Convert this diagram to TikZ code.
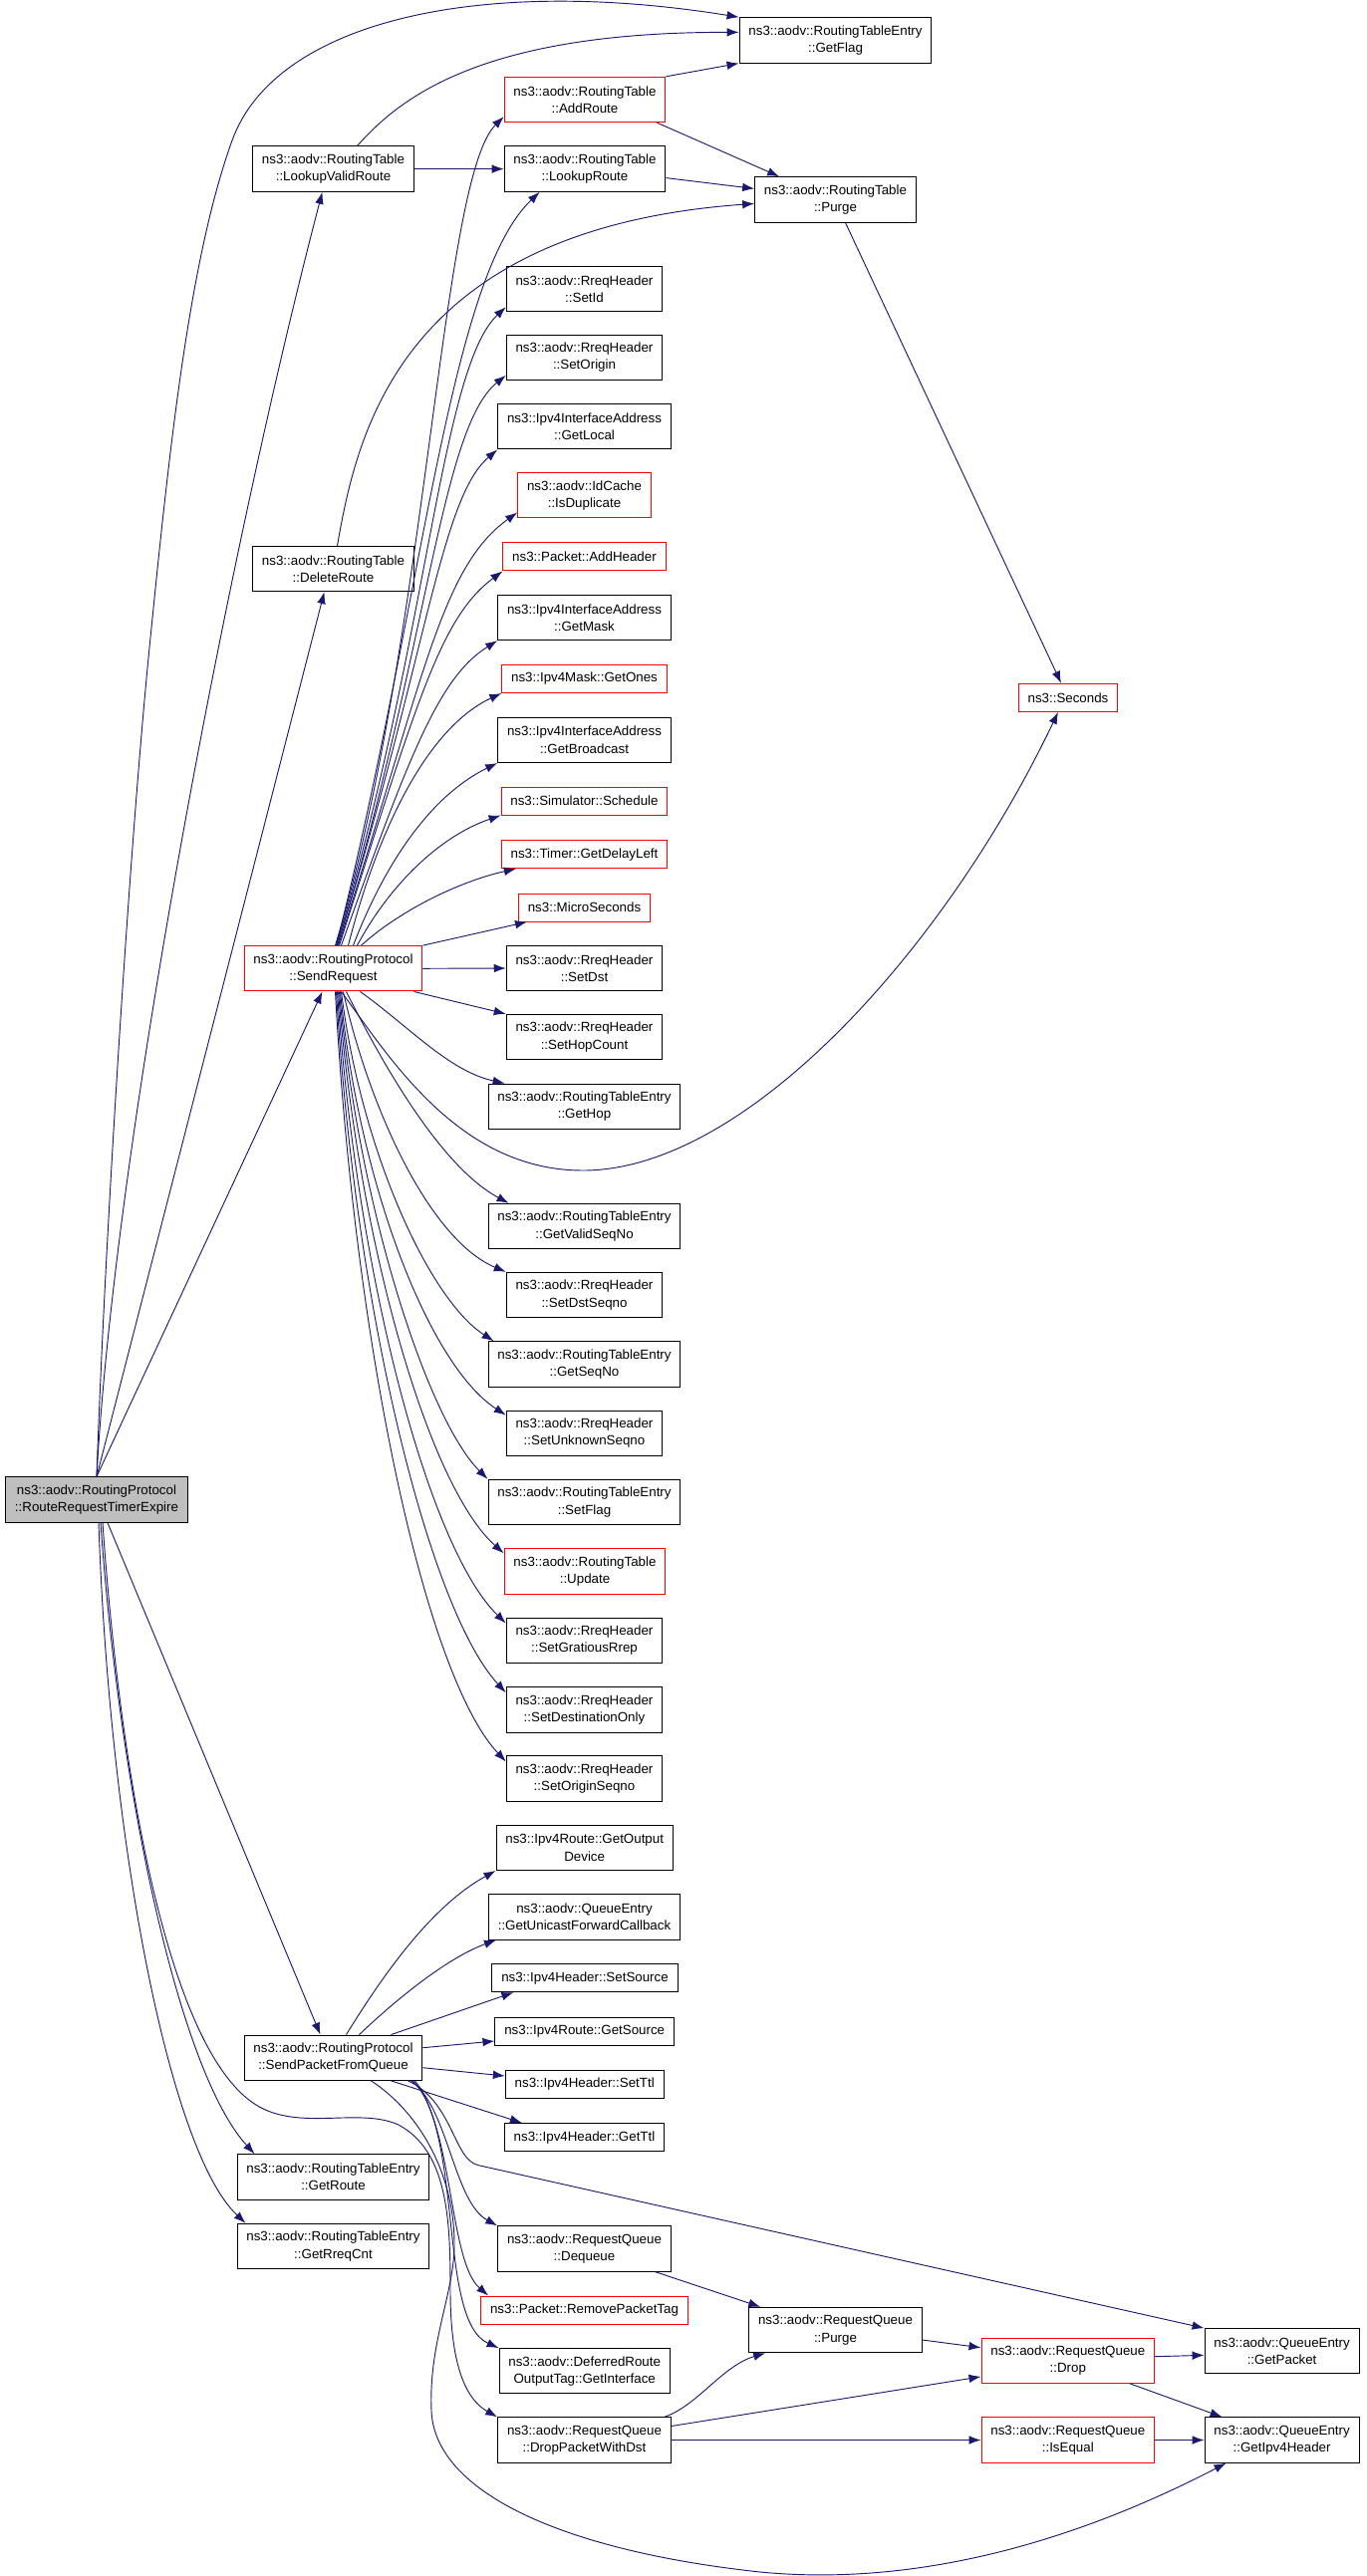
\documentclass[tikz,border=0pt]{standalone}
\usepackage{fontspec}
\setmainfont{Liberation Sans}
\usetikzlibrary{arrows.meta,calc}
\definecolor{callblue}{HTML}{191970}
\definecolor{rootgray}{HTML}{BFBFBF}
\tikzset{
  fn/.style={draw=black, fill=white, align=center, inner xsep=7pt, inner ysep=2pt,
    minimum height=34pt, line width=0.75pt, font=\fontsize{10}{13}\selectfont},
  hot/.style={fn, draw=red},
  root/.style={fn, fill=rootgray},
  one/.style={minimum height=21pt},
  call/.style={->, draw=callblue, line width=0.7pt},
}
\begin{document}
\begin{tikzpicture}[x=0.75pt,y=-0.75pt,>={Latex[length=9pt,width=6.5pt]}]
            \useasboundingbox (0,0) rectangle (1371,2586);

            % the caller
            \node[root] (main) at (97,1505.5) {ns3::aodv::RoutingProtocol\\::RouteRequestTimerExpire};

            % first column of callees
            \node[fn] (lvr) at (334.5,169.6) {ns3::aodv::RoutingTable\\::LookupValidRoute};
            \node[fn] (delroute) at (334.5,571) {ns3::aodv::RoutingTable\\::DeleteRoute};
            \node[hot] (sr) at (334.5,972.3) {ns3::aodv::RoutingProtocol\\::SendRequest};
            \node[fn] (spfq) at (334.5,2065.7) {ns3::aodv::RoutingProtocol\\::SendPacketFromQueue};
            \node[fn] (getroute) at (334.5,2185.5) {ns3::aodv::RoutingTableEntry\\::GetRoute};
            \node[fn] (getrreq) at (334.5,2255) {ns3::aodv::RoutingTableEntry\\::GetRreqCnt};

            % second column
            \node[hot] (addroute) at (587,100) {ns3::aodv::RoutingTable\\::AddRoute};
            \node[fn] (lookuproute) at (587,169.6) {ns3::aodv::RoutingTable\\::LookupRoute};
            \node[fn] (setid) at (586.5,290) {ns3::aodv::RreqHeader\\::SetId};
            \node[fn] (setorigin) at (586.5,358.7) {ns3::aodv::RreqHeader\\::SetOrigin};
            \node[fn] (getlocal) at (586.5,428.3) {ns3::Ipv4InterfaceAddress\\::GetLocal};
            \node[hot] (isdup) at (586.5,497.3) {ns3::aodv::IdCache\\::IsDuplicate};
            \node[hot,one] (addheader) at (586.5,558.9) {ns3::Packet::AddHeader};
            \node[fn] (getmask) at (586.5,620) {ns3::Ipv4InterfaceAddress\\::GetMask};
            \node[hot,one] (getones) at (586.5,681.5) {ns3::Ipv4Mask::GetOnes};
            \node[fn] (getbroadcast) at (586.5,742.8) {ns3::Ipv4InterfaceAddress\\::GetBroadcast};
            \node[hot,one] (schedule) at (586.5,804) {ns3::Simulator::Schedule};
            \node[hot,one] (getdelay) at (586.5,857.7) {ns3::Timer::GetDelayLeft};
            \node[hot,one] (micro) at (586.5,911) {ns3::MicroSeconds};
            \node[fn] (setdst) at (586.5,972) {ns3::aodv::RreqHeader\\::SetDst};
            \node[fn] (sethop) at (586.5,1041) {ns3::aodv::RreqHeader\\::SetHopCount};
            \node[fn] (gethop) at (586.5,1110.7) {ns3::aodv::RoutingTableEntry\\::GetHop};
            \node[fn] (getvalid) at (586.5,1231) {ns3::aodv::RoutingTableEntry\\::GetValidSeqNo};
            \node[fn] (setdstseq) at (586.5,1300) {ns3::aodv::RreqHeader\\::SetDstSeqno};
            \node[fn] (getseqno) at (586.5,1369.4) {ns3::aodv::RoutingTableEntry\\::GetSeqNo};
            \node[fn] (setunknown) at (586.5,1438.8) {ns3::aodv::RreqHeader\\::SetUnknownSeqno};
            \node[fn] (setflag) at (586.5,1508) {ns3::aodv::RoutingTableEntry\\::SetFlag};
            \node[hot] (update) at (587,1577.5) {ns3::aodv::RoutingTable\\::Update};
            \node[fn] (setgrat) at (586.5,1646.7) {ns3::aodv::RreqHeader\\::SetGratiousRrep};
            \node[fn] (setdestonly) at (586.5,1716.4) {ns3::aodv::RreqHeader\\::SetDestinationOnly};
            \node[fn] (setoriginseq) at (586.5,1785.6) {ns3::aodv::RreqHeader\\::SetOriginSeqno};
            \node[fn] (getoutdev) at (586.7,1854.8) {ns3::Ipv4Route::GetOutput\\Device};
            \node[fn] (getucb) at (586.5,1924.4) {ns3::aodv::QueueEntry\\::GetUnicastForwardCallback};
            \node[fn,one] (setsource) at (587,1985.6) {ns3::Ipv4Header::SetSource};
            \node[fn,one] (getsource) at (586.7,2039) {ns3::Ipv4Route::GetSource};
            \node[fn,one] (setttl) at (586.7,2092) {ns3::Ipv4Header::SetTtl};
            \node[fn,one] (getttl) at (586.5,2145.6) {ns3::Ipv4Header::GetTtl};
            \node[fn] (dequeue) at (586.5,2257.5) {ns3::aodv::RequestQueue\\::Dequeue};
            \node[hot,one] (rpt) at (586.5,2319) {ns3::Packet::RemovePacketTag};
            \node[fn] (getif) at (586.7,2380.3) {ns3::aodv::DeferredRoute\\OutputTag::GetInterface};
            \node[fn] (dpwd) at (586.5,2449.5) {ns3::aodv::RequestQueue\\::DropPacketWithDst};

            % third column and beyond
            \node[fn] (getflag) at (838.5,40.4) {ns3::aodv::RoutingTableEntry\\::GetFlag};
            \node[fn] (purge) at (838.5,200.4) {ns3::aodv::RoutingTable\\::Purge};
            \node[hot,one] (seconds) at (1072,700.3) {ns3::Seconds};
            \node[fn] (rqpurge) at (838.5,2339) {ns3::aodv::RequestQueue\\::Purge};
            \node[hot] (drop) at (1071.8,2369.7) {ns3::aodv::RequestQueue\\::Drop};
            \node[hot] (isequal) at (1071.8,2449.5) {ns3::aodv::RequestQueue\\::IsEqual};
            \node[fn] (getpacket) at (1286.6,2360.3) {ns3::aodv::QueueEntry\\::GetPacket};
            \node[fn] (getipv4hdr) at (1286.6,2449.5) {ns3::aodv::QueueEntry\\::GetIpv4Header};

            % calls of the timer
            \draw[call] (main.north) .. controls (105,1250) and (130,850) .. (150,650)
                .. controls (170,450) and (190,260) .. (233,141)
                .. controls (276,22) and (480,-25) .. (getflag.north west);
            \draw[call] (main.north) .. controls (115,1150) and (230,550) .. ($(lvr.south)+(-11,0)$);
            \draw[call] (main.north) -- ($(delroute.south)+(-9,0)$);
            \draw[call] (main.north) -- ($(sr.south)+(-11,0)$);
            \draw[call] ($(main.south)+(11,0)$) -- ($(spfq.north)+(-13,0)$);
            \draw[call] ($(main.south)+(4,0)$) .. controls (120,1800) and (180,2080) .. ($(getroute.north west)+(18,0)$);
            \draw[call] ($(main.south)+(2,0)$) .. controls (110,1850) and (170,2160) .. ($(getrreq.north west)+(9,0)$);
            \draw[call] ($(main.south)+(6,0)$) .. controls (122,1800) and (172,2060) .. (257,2113)
                .. controls (300,2140) and (360,2115) .. (400,2133)
                .. controls (450,2160) and (452,2230) .. (452,2300)
                .. controls (452,2380) and (470,2410) .. (dpwd.north west);

            % routing table calls
            \draw[call] (lvr.east) -- (lookuproute.west);
            \draw[call] ($(lvr.north)+(24,0)$) .. controls (400,100) and (480,32) .. ($(getflag.west)+(0,-8)$);
            \draw[call] ($(delroute.north)+(4,0)$) .. controls (358,437) and (400,230) .. ($(purge.west)+(0,4)$);
            \draw[call] (addroute.north east) -- (getflag.south west);
            \draw[call] ($(addroute.south east)+(-9,0)$) -- ($(purge.north west)+(25,0)$);
            \draw[call] ($(lookuproute.east)+(0,9)$) -- ($(purge.west)+(0,-11)$);
            \draw[call] ($(purge.south)+(10,0)$) -- ($(seconds.north)+(-7,0)$);

            % send request, upper fan
            \draw[call] ($(sr.north)+(2,0)$) .. controls (430,640) and (442,180) .. ($(addroute.south west)+(0,-6)$);
            \draw[call] ($(sr.north)+(3,0)$) .. controls (425,600) and (450,280) .. ($(lookuproute.south west)+(36,0)$);
            \draw[call] ($(sr.north)+(3,0)$) .. controls (430,640) and (442,370) .. ($(setid.south west)+(0,-5)$);
            \draw[call] ($(sr.north)+(4,0)$) .. controls (430,650) and (442,430) .. ($(setorigin.south west)+(0,-5)$);
            \draw[call] ($(sr.north)+(4,0)$) .. controls (428,660) and (442,500) .. (getlocal.south west);
            \draw[call] ($(sr.north)+(5,0)$) .. controls (426,680) and (442,570) .. ($(isdup.south west)+(0,-6)$);
            \draw[call] ($(sr.north)+(6,0)$) .. controls (420,700) and (442,620) .. (addheader.south west);
            \draw[call] ($(sr.north)+(8,0)$) .. controls (410,760) and (440,680) .. (getmask.south west);
            \draw[call] ($(sr.north)+(15,0)$) .. controls (380,830) and (430,730) .. (getones.south west);
            \draw[call] ($(sr.north)+(20,0)$) .. controls (385,870) and (430,800) .. (getbroadcast.south west);
            \draw[call] ($(sr.north)+(24,0)$) .. controls (390,890) and (440,840) .. (schedule.south west);
            \draw[call] ($(sr.north)+(28,0)$) .. controls (400,915) and (460,885) .. ($(getdelay.south west)+(15,0)$);
            \draw[call] (sr.north east) -- ($(micro.south west)+(9,0)$);
            \draw[call] (sr.east) -- (setdst.west);
            \draw[call] ($(sr.south east)+(-9,0)$) -- (sethop.north west);

            % send request, lower fan
            \draw[call] ($(sr.south)+(27,0)$) .. controls (410,1030) and (450,1075) .. ($(gethop.north west)+(17,0)$);
            \draw[call] ($(sr.south)+(13,0)$) .. controls (380,1060) and (440,1170) .. ($(getvalid.north west)+(21,0)$);
            \draw[call] ($(sr.south)+(10,0)$) .. controls (370,1110) and (430,1244) .. (setdstseq.north west);
            \draw[call] ($(sr.south)+(8,0)$) .. controls (362,1153) and (430,1304) .. ($(getseqno.north west)+(6,0)$);
            \draw[call] ($(sr.south)+(7,0)$) .. controls (360,1187) and (430,1370) .. ($(setunknown.north west)+(0,5)$);
            \draw[call] ($(sr.south)+(6,0)$) .. controls (360,1215) and (430,1426) .. (setflag.north west);
            \draw[call] ($(sr.south)+(5,0)$) .. controls (360,1249) and (430,1492) .. ($(update.north west)+(0,5)$);
            \draw[call] ($(sr.south)+(4,0)$) .. controls (358,1281) and (430,1554) .. ($(setgrat.north west)+(0,6)$);
            \draw[call] ($(sr.south)+(3,0)$) .. controls (356,1312) and (430,1615) .. ($(setdestonly.north west)+(0,6)$);
            \draw[call] ($(sr.south)+(2,0)$) .. controls (355,1343) and (425,1680) .. ($(setoriginseq.north west)+(0,6)$);
            \draw[call] ($(sr.south)+(8,0)$) .. controls (390,1060) and (460,1175) .. (585,1175)
                .. controls (750,1175) and (950,950) .. ($(seconds.south)+(-10,0)$);

            % send packet from queue
            \draw[call] ($(spfq.north)+(13,0)$) .. controls (380,1990) and (430,1915) .. (getoutdev.south west);
            \draw[call] ($(spfq.north)+(26,0)$) .. controls (400,2005) and (450,1965) .. ($(getucb.south west)+(8,0)$);
            \draw[call] ($(spfq.north)+(58,0)$) -- ($(setsource.south west)+(22,0)$);
            \draw[call] ($(spfq.east)+(0,-10)$) -- ($(getsource.west)+(0,10)$);
            \draw[call] ($(spfq.east)+(0,10)$) -- ($(setttl.west)+(0,-8)$);
            \draw[call] ($(spfq.south)+(58,0)$) -- ($(getttl.north west)+(18,0)$);
            \draw[call] ($(spfq.south)+(75,0)$) .. controls (455,2110) and (455,2168) .. (480,2173.6) -- (getpacket.north west);
            \draw[call] ($(spfq.south)+(78,0)$) .. controls (450,2115) and (455,2210) .. (dequeue.north west);
            \draw[call] ($(spfq.south)+(80,0)$) .. controls (455,2130) and (450,2270) .. ($(rpt.north west)+(8,0)$);
            \draw[call] ($(spfq.south)+(82,0)$) .. controls (465,2150) and (440,2330) .. (getif.north west);
            \draw[call] ($(spfq.south)+(38,0)$) .. controls (420,2120) and (455,2180) .. (456,2250)
                .. controls (457,2300) and (430,2350) .. (433,2420)
                .. controls (436,2500) and (560,2560) .. (763,2582)
                .. controls (950,2600) and (1120,2530) .. ($(getipv4hdr.south west)+(22,0)$);

            % request queue
            \draw[call] ($(dequeue.south east)+(-16,0)$) -- ($(rqpurge.north west)+(12,0)$);
            \draw[call] ($(rqpurge.east)+(0,10)$) -- ($(drop.west)+(0,-13)$);
            \draw[call] ($(dpwd.north east)+(-7,0)$) .. controls (700,2415) and (725,2375) .. ($(rqpurge.south west)+(17,0)$);
            \draw[call] ($(dpwd.east)+(0,-14)$) -- ($(drop.south west)+(0,-7)$);
            \draw[call] (dpwd.east) -- (isequal.west);
            \draw[call] ($(drop.east)+(0,-4)$) -- ($(getpacket.west)+(0,4)$);
            \draw[call] ($(drop.south east)+(-25,0)$) -- ($(getipv4hdr.north west)+(18,0)$);
            \draw[call] (isequal.east) -- (getipv4hdr.west);
\end{tikzpicture}
\end{document}
